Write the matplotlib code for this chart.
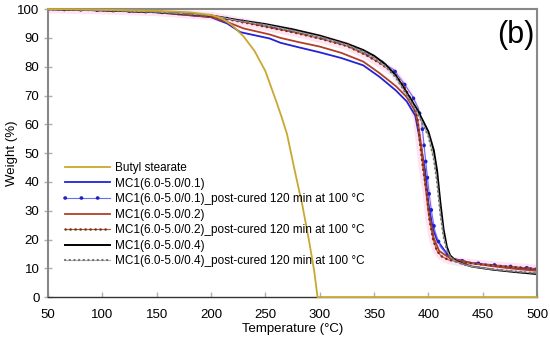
import matplotlib
matplotlib.use("Agg")
import matplotlib.pyplot as plt

plt.rcParams['font.family'] = ['Liberation Sans', 'DejaVu Sans']

# TGA curves
T_butyl = [50, 100, 150, 180, 200, 210, 220, 230, 240, 250, 260, 265, 270, 277, 284, 290, 295, 298, 350, 400, 450, 500]
W_butyl = [100, 99.8, 99.4, 98.9, 98.0, 96.8, 94.2, 90.5, 85.5, 78.5, 68.0, 62.5, 56.5, 44.0, 32.0, 20.0, 9.0, 0, 0, 0, 0, 0]

T_01 = [50, 100, 150, 200, 215, 227, 254, 264, 280, 300, 320, 340, 355, 370, 380, 388, 392, 397, 400, 404, 408, 420, 440, 472, 500]
W_01 = [100, 99.6, 98.9, 97.2, 95.0, 92.0, 89.8, 88.3, 86.8, 85.0, 83.0, 80.5, 76.5, 71.8, 68.0, 63.0, 55.0, 44.0, 32.6, 24.0, 19.8, 13.5, 11.8, 10.3, 9.5]

T_01p = [50, 100, 150, 200, 225, 250, 275, 300, 325, 343, 355, 368, 377, 385, 391, 394, 397, 399, 401, 403, 406, 411, 417, 423, 430, 440, 460, 480, 500]
W_01p = [100, 99.6, 99.0, 97.7, 96.0, 94.3, 92.4, 90.3, 87.8, 84.6, 82.0, 79.0, 74.5, 70.0, 65.5, 60.3, 49.3, 42.0, 35.0, 29.5, 23.0, 17.5, 14.8, 13.4, 12.7, 12.0, 11.2, 10.5, 9.9]

T_02 = [50, 100, 150, 200, 215, 230, 254, 264, 280, 300, 320, 340, 355, 370, 380, 388, 391, 394, 397, 400, 405, 410, 420, 440, 460, 480, 500]
W_02 = [100, 99.6, 98.9, 97.3, 95.5, 93.3, 91.2, 90.0, 88.6, 87.0, 84.8, 81.8, 77.8, 73.3, 69.5, 64.5, 59.0, 51.0, 40.0, 30.0, 20.5, 16.0, 13.5, 11.8, 10.7, 9.8, 9.1]

T_02p = [50, 100, 150, 200, 225, 250, 275, 300, 325, 343, 355, 368, 377, 385, 390, 392, 395, 398.6, 401, 404.5, 408, 412, 418, 425, 440, 460, 480, 500]
W_02p = [100, 99.6, 99.0, 97.6, 95.8, 93.9, 92.0, 89.8, 87.2, 84.0, 81.3, 78.0, 73.5, 68.0, 62.0, 54.5, 45.0, 36.0, 27.0, 19.8, 16.0, 14.2, 13.0, 12.4, 11.7, 11.0, 10.4, 9.8]

T_04 = [50, 100, 150, 200, 225, 250, 275, 300, 325, 340, 350, 360, 370, 380, 390, 400, 405, 408, 411, 414, 417, 420, 425, 430, 440, 460, 480, 500]
W_04 = [100, 99.6, 99.0, 97.8, 96.2, 94.8, 93.0, 90.8, 88.0, 85.8, 83.8, 81.0, 77.0, 71.0, 65.0, 57.5, 51.0, 44.0, 33.0, 23.5, 17.5, 14.5, 12.7, 11.8, 10.6, 9.5, 8.7, 8.0]
W_04p = [100, 99.6, 99.0, 97.8, 96.0, 94.5, 92.6, 90.4, 87.6, 85.3, 83.2, 80.3, 76.3, 70.3, 64.0, 56.0, 48.0, 40.0, 29.0, 21.0, 16.3, 14.0, 12.5, 11.7, 10.6, 9.6, 8.9, 8.3]

labels = ['Butyl stearate',
          'MC1(6.0-5.0/0.1)',
          'MC1(6.0-5.0/0.1)_post-cured 120 min at 100 °C',
          'MC1(6.0-5.0/0.2)',
          'MC1(6.0-5.0/0.2)_post-cured 120 min at 100 °C',
          'MC1(6.0-5.0/0.4)',
          'MC1(6.0-5.0/0.4)_post-cured 120 min at 100 °C']

fig = plt.figure(figsize=(5.5, 3.38), dpi=100)
ax = fig.add_axes([0.0873, 0.121, 0.8891, 0.852])

dots = dict(dash_capstyle='round')

h0, = ax.plot(T_butyl, W_butyl, color='#c8a830', lw=1.3, zorder=3, clip_on=False)
h1, = ax.plot(T_01, W_01, color='#2222d8', lw=1.3)
h2a, = ax.plot(T_01p, W_01p, color='#6a6aff', lw=0.8)
h2b, = ax.plot(T_01p, W_01p, color='#2020c8', lw=2.6, ls=(0, (0.1, 4.4)), **dots)
h3, = ax.plot(T_02, W_02, color='#b0402a', lw=1.3)
ax.plot(T_02p, W_02p, color='#ffd8f0', lw=6, alpha=0.7, zorder=1)
h4a, = ax.plot(T_02p, W_02p, color='#b05a3a', lw=0.8)
h4b, = ax.plot(T_02p, W_02p, color='#7a3010', lw=1.8, ls=(0, (0.1, 1.9)), **dots)
h5, = ax.plot(T_04, W_04, color='black', lw=1.4)
h6a, = ax.plot(T_04, W_04p, color='#b0b0b0', lw=0.8)
h6b, = ax.plot(T_04, W_04p, color='#707070', lw=1.6, ls=(0, (0.1, 2.0)), **dots)

ax.set_xlim(50, 500)
ax.set_ylim(0, 100)
ax.set_xticks(range(50, 501, 50))
ax.set_yticks(range(0, 101, 10))
ax.tick_params(axis='x', direction='in', length=3.6, width=1, color='#b0b0b0', labelsize=9.5, pad=8.5)
ax.tick_params(axis='y', direction='inout', length=5.8, width=1, color='#b0b0b0', labelsize=9.5, pad=3.2)
for s in ax.spines.values():
    s.set_color('#888888')
    s.set_linewidth(1.5)
ax.spines['bottom'].set_color('#333333')
ax.spines['bottom'].set_linewidth(1.0)

ax.set_xlabel('Temperature (°C)', fontsize=9.5, labelpad=1.5)
ax.set_ylabel('Weight (%)', fontsize=9.5)
ax.yaxis.set_label_coords(-0.062, 0.5)
ax.text(0.995, 0.91, '(b)', transform=ax.transAxes, ha='right', va='center', fontsize=22)

ax.legend([h0, h1, (h2a, h2b), h3, (h4a, h4b), h5, (h6a, h6b)], labels,
          loc='upper left', bbox_to_anchor=(0.035, 0.469), frameon=False,
          fontsize=8.5, handlelength=3.8, handletextpad=0.45, labelspacing=0.3,
          borderpad=0, borderaxespad=0)

fig.savefig('out.png', dpi=100)
